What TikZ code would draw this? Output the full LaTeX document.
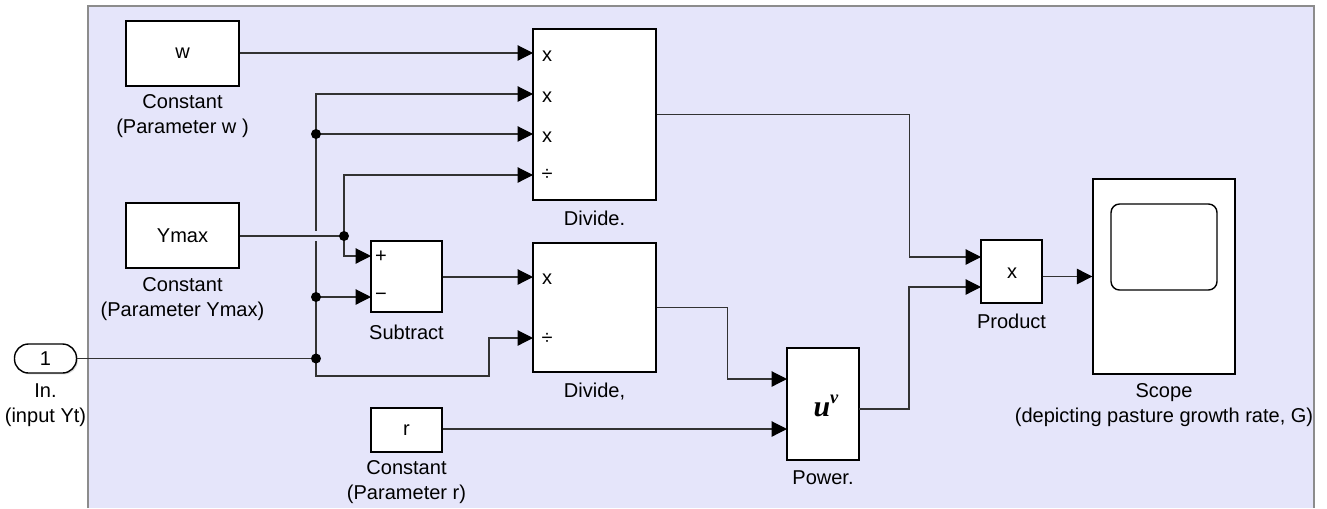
\documentclass[tikz,border=0pt]{standalone}
\usepackage{fontspec}
\setmainfont{Liberation Sans}
\newfontfamily\serifbi{Liberation Serif}
\usetikzlibrary{arrows.meta,shadows}
\definecolor{bgfill}{RGB}{229,229,250}
\definecolor{bgedge}{RGB}{140,140,140}
\definecolor{wire}{RGB}{50,50,50}
\tikzset{
  blk/.style={draw=black, fill=white, line width=0.8pt, inner sep=0pt,
    font=\fontsize{11.4}{14.2}\selectfont,
    drop shadow={shadow xshift=0.8pt, shadow yshift=-0.8pt, opacity=0.3}},
  lbl/.style={font=\fontsize{11.4}{14.2}\selectfont, align=center, inner sep=0pt},
  txt/.style={font=\fontsize{11.4}{14.2}\selectfont, inner sep=0pt},
  wirestyle/.style={draw=wire, line width=0.65pt},
  sig/.style={wirestyle, -{Triangle[length=0.31cm, width=0.31cm, color=black]}},
  dot/.style={circle, fill=black, minimum size=0.2cm, inner sep=0pt},
}
\begin{document}
\begin{tikzpicture}[x=0.02cm, y=-0.02cm]
\useasboundingbox (0,0) rectangle (1327,508);
% background region
\fill[bgfill] (88,6) rectangle (1314,508);
\draw[bgedge, line width=0.6pt] (88,508) -- (88,6) -- (1314,6) -- (1314,508);

% blocks
\node[blk, minimum width=2.26cm, minimum height=1.30cm] (w) at (182.5,53.5) {w};
\node[blk, minimum width=2.26cm, minimum height=1.30cm] (ymax) at (182.5,235.5) {Ymax};
\node[blk, rounded corners=0.28cm, minimum width=1.24cm, minimum height=0.58cm] (inp) at (45.5,358.5) {1};
\node[blk, minimum width=1.42cm, minimum height=1.42cm] (sub) at (406.5,276.5) {};
\node[blk, minimum width=2.46cm, minimum height=3.42cm] (divA) at (594.5,114.5) {};
\node[blk, minimum width=2.46cm, minimum height=2.58cm] (divB) at (594.5,307.5) {};
\node[blk, minimum width=1.44cm, minimum height=2.24cm] (pow) at (823,404) {};
\node[blk, minimum width=1.42cm, minimum height=0.88cm] (r) at (406.5,430) {r};
\node[blk, minimum width=1.22cm, minimum height=1.26cm] (prod) at (1011.5,271.5) {};
\node[blk, minimum width=2.84cm, minimum height=3.90cm] (scope) at (1164,276.5) {};
\node[draw=black, line width=0.8pt, rounded corners=0.17cm, minimum width=2.12cm, minimum height=1.72cm, inner sep=0pt] (screen) at (1164,247) {};

% port labels
\node[txt] (splus) at (381,257) {+};
\node[txt] (sminus) at (381,297) {−};
\node[txt] (da1) at (547,56) {x};
\node[txt] (da2) at (547,97) {x};
\node[txt] (da3) at (547,137) {x};
\node[txt] (da4) at (547,175) {÷};
\node[txt] (db1) at (547,279) {x};
\node[txt] (db2) at (547,339) {÷};
\node[txt] (px) at (1012,273) {x};
\node[inner sep=0pt] (powtxt) at (826,406) {\serifbi\bfseries\itshape\fontsize{17}{17}\selectfont u\raisebox{1.0ex}{\fontsize{10.5}{10.5}\selectfont ν}};

% block captions
\node[lbl] (lw) at (182.5,116.5) {Constant\\(Parameter w )};
\node[lbl] (ly) at (182.5,299.5) {Constant\\(Parameter Ymax)};
\node[lbl] (lin) at (45.5,405) {In.\\(input Yt)};
\node[lbl] (ls) at (406.5,332) {Subtract};
\node[lbl] (lr) at (406.5,482.5) {Constant\\(Parameter r)};
\node[lbl] (lda) at (594.5,218) {Divide.};
\node[lbl] (ldb) at (594.5,392) {Divide,};
\node[lbl] (lp) at (823,478) {Power.};
\node[lbl] (lpr) at (1011.5,321) {Product};
\node[lbl] (lsc) at (1164,405) {Scope\\(depicting pasture growth rate, G)};

% ports and junctions
\coordinate (dA1) at (533,53);
\coordinate (dA2) at (533,94);
\coordinate (dA3) at (533,134);
\coordinate (dA4) at (533,175);
\coordinate (dB1) at (533,277);
\coordinate (dB2) at (533,338);
\coordinate (s1) at (371,256);
\coordinate (s2) at (371,297);
\coordinate (p1) at (787,379);
\coordinate (p2) at (787,429);
\coordinate (pout) at (859,409);
\coordinate (q1) at (981,257);
\coordinate (q2) at (981,287);
\coordinate (j1) at (316,358.5);
\coordinate (jtop) at (316,94);
\coordinate (jbot) at (316,376);
\coordinate (j2) at (316,134);
\coordinate (j3) at (316,297);
\coordinate (jy) at (344,236);

% connectors
\draw[sig] (w.east |- dA1) -- (dA1);
\draw[wirestyle] (inp.east) -- (j1);
\draw[sig] (j1) -- (jtop) -- (dA2);
\draw[sig] (j1) -- (jbot) -- ++(173,0) |- (dB2);
\draw[sig] (j2) -- (dA3);
\draw[sig] (j3) -- (s2);
% crossing gap
\draw[bgfill, line width=2.5pt] (316,231) -- (316,241);
\draw[wirestyle] (ymax.east |- jy) -- (jy);
\draw[sig] (jy) |- (dA4);
\draw[sig] (jy) |- (s1);
\draw[sig] (sub.east |- dB1) -- (dB1);
\draw[sig] (divA.east) -- ++(253,0) |- (q1);
\draw[sig] (divB.east) -- ++(71,0) |- (p1);
\draw[sig] (r.east |- p2) -- (p2);
\draw[sig] (pout) -- ++(50,0) |- (q2);
\draw[sig] (prod.east |- scope.west) -- (scope.west);

\node[dot] (dj1) at (j1) {};
\node[dot] (dj2) at (j2) {};
\node[dot] (dj3) at (j3) {};
\node[dot] (djy) at (jy) {};
\end{tikzpicture}
\end{document}
